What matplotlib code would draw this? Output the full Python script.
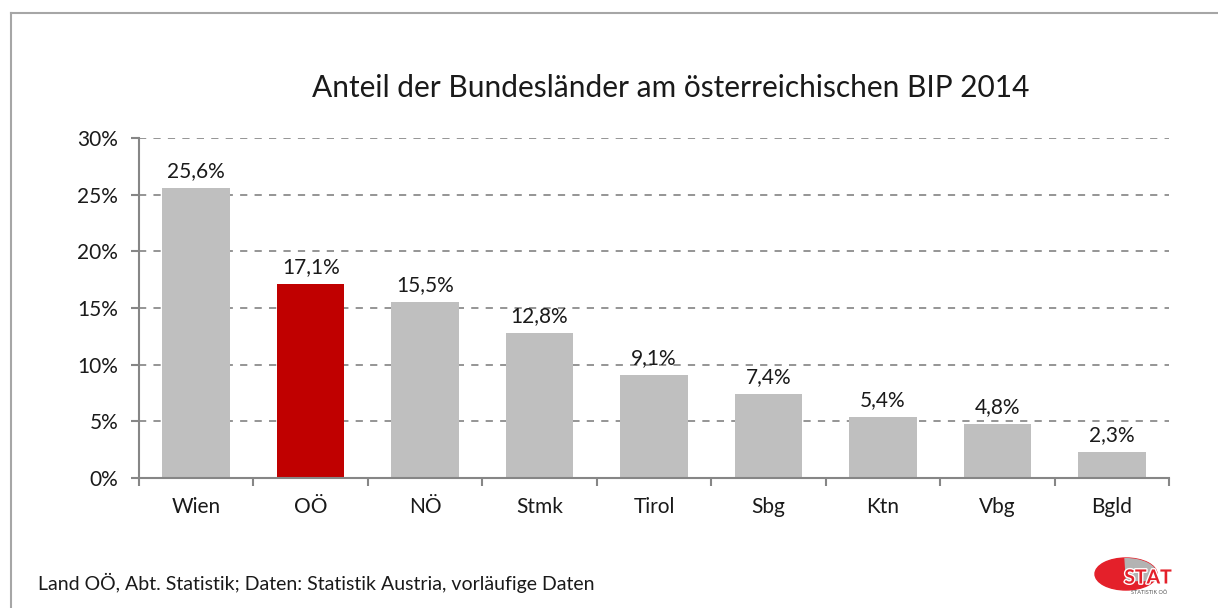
import matplotlib.pyplot as plt
import numpy as np
from matplotlib.patches import Ellipse, Polygon
from matplotlib.lines import Line2D
import matplotlib.patheffects as pe

plt.rcParams['font.family'] = ['Lato', 'DejaVu Sans']

laender = ['Wien', 'OÖ', 'NÖ', 'Stmk', 'Tirol', 'Sbg', 'Ktn', 'Vbg', 'Bgld']
anteil = [25.6, 17.1, 15.5, 12.8, 9.1, 7.4, 5.4, 4.8, 2.3]
hervorheben = 'OÖ'
y_ticks = [0, 5, 10, 15, 20, 25, 30]

grey = '#bfbfbf'
red = '#c00000'
axis_grey = '#868686'

fig = plt.figure(figsize=(12.18, 6.08), dpi=100)
ax = fig.add_axes([0.1141, 0.2138, 0.8457, 0.5592])

x = np.arange(len(laender))
colors = [red if l == hervorheben else grey for l in laender]
ax.bar(x, anteil, width=0.59, color=colors, zorder=3)

for xi, v in zip(x, anteil):
    ax.text(xi, v + 0.6, f'{v:.1f}%'.replace('.', ','), ha='center', va='bottom',
            fontsize=15, color='#1a1a1a')

ax.set_xlim(-0.5, len(laender) - 0.5)
ax.set_ylim(0, 30)
ax.set_yticks(y_ticks)
ax.set_yticklabels([f'{t}%' for t in y_ticks], fontsize=15, color='#1a1a1a')
ax.set_xticks(x)
ax.set_xticklabels(laender, fontsize=15, color='#1a1a1a')
ax.set_xticks(np.arange(len(laender) + 1) - 0.5, minor=True)
ax.tick_params(axis='x', which='major', length=0, pad=14)
ax.tick_params(axis='x', which='minor', length=6, color=axis_grey, width=1.5)
ax.tick_params(axis='y', length=6, color=axis_grey, width=1.5, pad=9)

ax.yaxis.grid(True, linestyle=(0, (4, 4)), color='#8c8c8c', linewidth=1.3, zorder=0)
for s in ['top', 'right']:
    ax.spines[s].set_visible(False)
for s in ['left', 'bottom']:
    ax.spines[s].set_color(axis_grey)
    ax.spines[s].set_linewidth(1.5)
ax.spines['bottom'].set_zorder(4)

fig.text(0.551, 0.855, 'Anteil der Bundesländer am österreichischen BIP 2014',
         ha='center', va='center', fontsize=21.5, color='#1a1a1a')
fig.text(0.031, 0.042, 'Land OÖ, Abt. Statistik; Daten: Statistik Austria, vorläufige Daten',
         ha='left', va='center', fontsize=14, color='#1a1a1a')

# Rahmen
fig.add_artist(Line2D([0.009, 0.009], [0, 0.979], color='#a6a6a6', lw=1.5))
fig.add_artist(Line2D([0.009, 1.0], [0.979, 0.979], color='#a6a6a6', lw=1.5))

# Logo (Pixelkoordinaten)
lax = fig.add_axes([1090 / 1218, 1 - 600 / 608, 92 / 1218, 52 / 608])
lax.set_xlim(1090, 1182)
lax.set_ylim(600, 548)
lax.axis('off')
ell = Ellipse((1126, 574), 62, 32, color='#e4202a')
lax.add_patch(ell)
grau = Polygon([(1124, 550), (1182, 550), (1182, 580), (1126, 580)], closed=True,
               color='#b3b3b3')
lax.add_patch(grau)
grau.set_clip_path(ell)
lax.text(1148, 578, 'STAT', fontsize=14, fontweight='bold', color='#e4202a',
         ha='center', va='center',
         path_effects=[pe.withStroke(linewidth=2, foreground='white')])
lax.text(1149, 592, 'STATISTIK OÖ', fontsize=4, color='#555555',
         ha='center', va='center')

fig.savefig('out.png', dpi=100)
